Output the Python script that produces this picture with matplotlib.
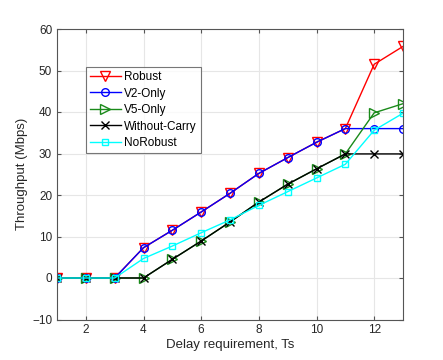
import matplotlib
matplotlib.use("Agg")
import matplotlib.pyplot as plt

plt.rcParams['font.family'] = ['Liberation Sans', 'DejaVu Sans']

x = list(range(1, 14))
robust = [0, 0, 0, 7.3, 11.5, 15.9, 20.4, 25.2, 29.0, 32.7, 36.0, 51.5, 55.8]
v2_only = [0, 0, 0, 7.3, 11.5, 15.9, 20.4, 25.2, 29.0, 32.7, 36.0, 36.0, 36.0]
v5_only = [0, 0, 0, 0, 4.5, 8.9, 13.5, 18.3, 22.6, 26.3, 29.9, 39.8, 42.0]
without_carry = [0, 0, 0, 0, 4.5, 8.9, 13.5, 18.3, 22.6, 26.3, 29.9, 29.9, 29.9]
no_robust = [0, 0, 0, 4.7, 7.7, 10.9, 14.0, 17.5, 20.8, 24.1, 27.4, 35.6, 39.7]

labels = ['Robust', 'V2-Only', 'V5-Only', 'Without-Carry', 'NoRobust']
xticks = [2, 4, 6, 8, 10, 12]
yticks = [-10, 0, 10, 20, 30, 40, 50, 60]

fig = plt.figure(figsize=(4.43, 3.6), dpi=100)
ax = fig.add_axes([57/443, 1 - 319.5/360, (403-57)/443, (319.5-29)/360])

ax.plot(x, robust, color='red', marker='v', mfc='none', ms=6.5, lw=1, label=labels[0])
ax.plot(x, v2_only, color='blue', marker='o', mfc='none', ms=5.5, lw=1, label=labels[1])
ax.plot(x, v5_only, color='#1a8a1a', marker='>', mfc='none', ms=6.5, lw=1, label=labels[2])
ax.plot(x, without_carry, color='black', marker='x', mfc='none', ms=5.5, lw=1, label=labels[3])
ax.plot(x, no_robust, color='cyan', marker='s', mfc='none', ms=5, lw=1, label=labels[4])

ax.set_xlim(1, 13)
ax.set_ylim(-10, 60)
ax.set_xticks(xticks)
ax.set_yticks(yticks)
ax.grid(True, color='#e6e6e6', lw=0.8)
ax.set_axisbelow(True)
for s in ax.spines.values():
    s.set_color('#555555')
    s.set_linewidth(0.8)
ax.tick_params(direction='in', top=True, right=True, labelsize=8.5, colors='#555555', labelcolor='#262626', length=3)
ax.set_xlabel('Delay requirement, Ts', fontsize=9.5, color='#262626', labelpad=2)
ax.set_ylabel('Throughput (Mbps)', fontsize=9.5, color='#262626', labelpad=3)

leg = ax.legend(loc='upper left', bbox_to_anchor=(29/346, 1 - 38/290.5), fontsize=8.5,
                frameon=True, fancybox=False, borderpad=0.35, labelspacing=0.38,
                handlelength=2.6, handletextpad=0.3, borderaxespad=0)
leg.get_frame().set_edgecolor('#555555')
leg.get_frame().set_linewidth(0.8)

fig.savefig('out.png', dpi=100, facecolor='white')
